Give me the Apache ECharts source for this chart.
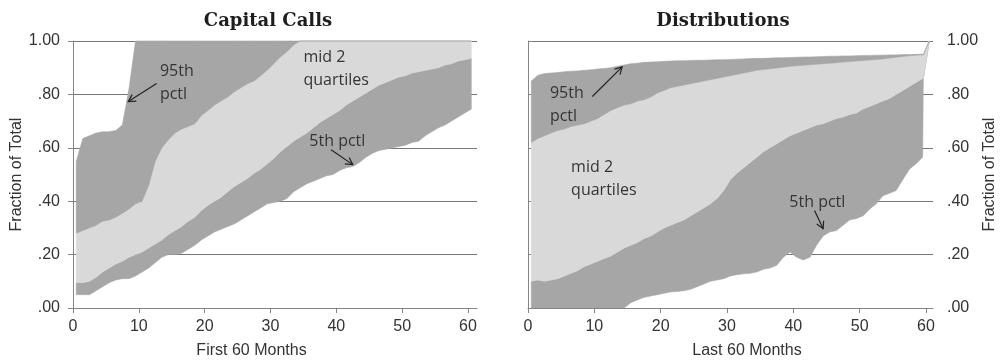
<!DOCTYPE html>
<html><head><meta charset="utf-8">
<script src="https://cdn.jsdelivr.net/npm/echarts@6/dist/echarts.min.js"></script>
<style>html,body{margin:0;padding:0;background:#fff}#c{width:1000px;height:364px}</style>
</head><body><div id="c"></div>
<script>
// ---------- data ----------
const titles = ['Capital Calls', 'Distributions'];
const xNames = ['First 60 Months', 'Last 60 Months'];
const yName = 'Fraction of Total';
const xTickValues = [0, 10, 20, 30, 40, 50, 60];
const yTickLabels = ['.00', '.20', '.40', '.60', '.80', '1.00'];

const callsMonths = [0.5,1.5,2.5,3.5,4.5,5.5,6.5,7.5,8.5,9.5,10.5,11.5,12.5,13.5,14.5,15.5,16.5,17.5,18.5,19.5,20.5,21.5,22.5,23.5,24.5,25.5,26.5,27.5,28.5,29.5,30.5,31.5,32.5,33.5,34.5,35.5,36.5,37.5,38.5,39.5,40.5,41.5,42.5,43.5,44.5,45.5,46.5,47.5,48.5,49.5,50.5,51.5,52.5,53.5,54.5,55.5,56.5,57.5,58.5,59.5,60.5];
const callsP5 = [0.05,0.05,0.05,0.065,0.08,0.095,0.105,0.11,0.11,0.12,
0.135,0.15,0.17,0.19,0.20,0.20,0.205,0.22,0.235,0.255,
0.27,0.285,0.295,0.305,0.315,0.33,0.345,0.36,0.375,0.39,
0.395,0.40,0.41,0.435,0.45,0.465,0.475,0.485,0.495,0.50,
0.515,0.525,0.53,0.545,0.565,0.58,0.59,0.595,0.60,0.605,
0.61,0.62,0.625,0.645,0.66,0.675,0.685,0.70,0.715,0.73,
0.745];
const callsP25 = [0.095,0.095,0.10,0.115,0.135,0.15,0.165,0.175,0.19,0.20,
0.21,0.225,0.24,0.255,0.275,0.29,0.305,0.325,0.34,0.365,
0.385,0.40,0.415,0.435,0.455,0.47,0.485,0.505,0.52,0.54,
0.56,0.585,0.605,0.625,0.64,0.655,0.675,0.695,0.71,0.725,
0.74,0.76,0.775,0.79,0.805,0.82,0.835,0.845,0.855,0.865,
0.87,0.88,0.885,0.89,0.895,0.90,0.91,0.915,0.925,0.93,
0.935];
const callsP75 = [0.28,0.29,0.30,0.31,0.325,0.33,0.34,0.355,0.37,0.39,
0.40,0.46,0.55,0.60,0.63,0.655,0.67,0.68,0.69,0.72,
0.74,0.76,0.775,0.79,0.81,0.825,0.84,0.85,0.87,0.89,
0.915,0.94,0.96,0.985,1,1,1,1,1,1,
1,1,1,1,1,1,1,1,1,1,
1,1,1,1,1,1,1,1,1,1,
1];
const callsP95 = [0.55,0.635,0.645,0.655,0.66,0.66,0.665,0.685,0.82,1,
1,1,1,1,1,1,1,1,1,1,
1,1,1,1,1,1,1,1,1,1,
1,1,1,1,1,1,1,1,1,1,
1,1,1,1,1,1,1,1,1,1,
1,1,1,1,1,1,1,1,1,1,
1];

const distMonths = [0.5,1.5,2.5,3.5,4.5,5.5,6.5,7.5,8.5,9.5,10.5,11.5,12.5,13.5,14.5,15.5,16.5,17.5,18.5,19.5,20.5,21.5,22.5,23.5,24.5,25.5,26.5,27.5,28.5,29.5,30.5,31.5,32.5,33.5,34.5,35.5,36.5,37.5,38.5,39.5,40.5,41.5,42.5,43.5,44.5,45.5,46.5,47.5,48.5,49.5,50.5,51.5,52.5,53.5,54.5,55.5,56.5,57.5,58.5,59.5,59.6,60.5];
const distP5 = [0,0,0,0,0,0,0,0,0,0,
0,0,0,0,0,0.02,0.03,0.04,0.045,0.05,
0.055,0.06,0.062,0.065,0.07,0.08,0.09,0.10,0.105,0.11,
0.12,0.125,0.128,0.13,0.135,0.145,0.15,0.16,0.19,0.21,
0.19,0.18,0.19,0.235,0.27,0.285,0.29,0.31,0.33,0.335,
0.345,0.37,0.39,0.42,0.43,0.44,0.48,0.52,0.54,0.565,
0.86,1];
const distP25 = [0.10,0.105,0.10,0.105,0.11,0.12,0.13,0.14,0.155,0.165,
0.175,0.185,0.195,0.21,0.225,0.235,0.245,0.26,0.27,0.285,
0.30,0.31,0.32,0.33,0.345,0.36,0.375,0.39,0.41,0.44,
0.48,0.505,0.525,0.545,0.565,0.585,0.60,0.615,0.63,0.645,
0.655,0.665,0.675,0.685,0.69,0.70,0.71,0.715,0.725,0.73,
0.745,0.755,0.765,0.775,0.785,0.80,0.815,0.83,0.845,0.86,
0.86,1];
const distP75 = [0.62,0.635,0.645,0.655,0.665,0.67,0.68,0.685,0.69,0.70,
0.71,0.725,0.74,0.75,0.76,0.765,0.775,0.78,0.79,0.805,
0.815,0.825,0.83,0.835,0.84,0.845,0.85,0.855,0.86,0.865,
0.87,0.875,0.88,0.885,0.89,0.893,0.896,0.899,0.902,0.905,
0.907,0.909,0.911,0.913,0.915,0.917,0.919,0.921,0.923,0.925,
0.927,0.929,0.931,0.933,0.936,0.939,0.942,0.945,0.947,0.948,
0.948,1];
const distP95 = [0.85,0.872,0.878,0.88,0.882,0.885,0.887,0.888,0.89,0.892,
0.895,0.897,0.90,0.905,0.91,0.915,0.917,0.92,0.921,0.922,
0.924,0.925,0.926,0.926,0.927,0.928,0.928,0.929,0.93,0.93,
0.931,0.932,0.933,0.934,0.935,0.935,0.936,0.937,0.937,0.938,
0.939,0.94,0.94,0.941,0.942,0.943,0.943,0.944,0.944,0.945,
0.946,0.946,0.947,0.947,0.948,0.948,0.949,0.949,0.95,0.95,
0.95,1];

// annotations: [grid, text, anchor in data coords (left edge, vertical middle)]
const notes = [
  {grid: 0, text: '95th\npctl', at: [13.2, 0.844]},
  {grid: 0, text: 'mid 2\nquartiles', at: [35.0, 0.894]},
  {grid: 0, text: '5th pctl', at: [35.9, 0.622]},
  {grid: 1, text: '95th\npctl', at: [3.3, 0.759]},
  {grid: 1, text: 'mid 2\nquartiles', at: [6.5, 0.485]},
  {grid: 1, text: '5th pctl', at: [39.4, 0.397]}
];
const arrows = [
  {grid: 0, from: [12.7, 0.841], to: [8.4, 0.773]},
  {grid: 0, from: [39.2, 0.593], to: [42.5, 0.537]},
  {grid: 1, from: [9.7, 0.792], to: [14.2, 0.903]},
  {grid: 1, from: [43.2, 0.365], to: [44.5, 0.297]}
];

// ---------- styling ----------
const DARK = '#a6a6a6', LIGHT = '#d9d9d9';
const AXIS = '#858585', GRIDC = '#777777', TXT = '#333333';
const SANS = '"Liberation Sans", Arial, sans-serif';

// one filled band between two percentile curves, drawn through the axis scales
function band(months, lo, hi, color, idx) {
  return {
    type: 'custom', xAxisIndex: idx, yAxisIndex: idx, silent: true, z: 2,
    data: months.map((m, i) => [m, lo[i], hi[i]]),
    encode: {x: 0, y: [1, 2]},
    renderItem: (params, api) => {
      if (params.dataIndex !== 0) return;
      const top = months.map((m, i) => api.coord([m, hi[i]]));
      const bot = months.map((m, i) => api.coord([m, lo[i]])).reverse();
      return {type: 'polygon', shape: {points: top.concat(bot)},
        style: {fill: color, stroke: color, lineWidth: 0.6}};
    }
  };
}
function bands(months, p5, p25, p75, p95, idx) {
  return [band(months, p5, p25, DARK, idx), band(months, p25, p75, LIGHT, idx), band(months, p75, p95, DARK, idx)];
}

const cvs = document.createElement('canvas').getContext('2d');
cvs.font = 'bold 18px "DejaVu Serif"';
const tw = titles.map(t => cvs.measureText(t).width);
const titleCenters = [268, 723];

function xAxisCfg(idx, max, name, namePad) {
  return {type: 'value', gridIndex: idx, min: 0, max: max, interval: 10, z: 5,
    axisLine: {show: true, onZero: false, lineStyle: {color: AXIS, width: 1}},
    axisTick: {show: true, length: 5, lineStyle: {color: AXIS}, customValues: xTickValues},
    axisLabel: {customValues: xTickValues, color: TXT, fontFamily: SANS, fontSize: 16, margin: 11},
    splitLine: {show: false},
    name: name, nameLocation: 'middle', nameGap: 35,
    nameTextStyle: {color: TXT, fontFamily: SANS, fontSize: 16, padding: namePad}};
}
function yAxisCfg(idx, pos, gap) {
  return {type: 'value', gridIndex: idx, position: pos, min: 0, max: 1, interval: 0.2,
    axisLine: {show: true, lineStyle: {color: AXIS, width: 1}},
    axisTick: {show: true, length: 5, lineStyle: {color: AXIS}},
    axisLabel: {color: TXT, fontFamily: SANS, fontSize: 16, margin: pos === 'left' ? 13 : 14,
      formatter: v => yTickLabels[Math.round(v * 5)]},
    splitLine: {show: true, lineStyle: {color: GRIDC, width: 1}},
    name: yName, nameLocation: 'middle', nameGap: gap,
    nameTextStyle: {color: TXT, fontFamily: SANS, fontSize: 16}};
}

const option = {
  animation: false,
  backgroundColor: '#ffffff',
  title: titles.map((t, i) => ({text: t, left: titleCenters[i] - tw[i] / 2, top: 12, padding: 0,
    textStyle: {fontFamily: '"DejaVu Serif", serif', fontWeight: 'bold', fontSize: 18, color: '#1e1e1e'}})),
  grid: [
    {left: 73, top: 41, width: 404, height: 268},
    {left: 528, top: 41, width: 405, height: 268}
  ],
  xAxis: [xAxisCfg(0, 61.37, xNames[0], [0, 47, 0, 0]), xAxisCfg(1, 61.06, xNames[1], [0, 0, 0, 33])],
  yAxis: [yAxisCfg(0, 'left', 45), yAxisCfg(1, 'right', 48)],
  series: [].concat(
    bands(callsMonths, callsP5, callsP25, callsP75, callsP95, 0),
    bands(distMonths, distP5, distP25, distP75, distP95, 1)
  )
};

const chart = echarts.init(document.getElementById('c'), null, {renderer: 'canvas'});
chart.setOption(option);

const g = [];
notes.forEach(n => {
  const p = chart.convertToPixel({gridIndex: n.grid}, n.at);
  g.push({type: 'text', x: p[0], y: p[1], silent: true, z: 10,
    style: {text: n.text, fill: '#353535', font: '16px "Open Sans"', align: 'left', verticalAlign: 'middle', lineHeight: 23}});
});
arrows.forEach(a => {
  const p1 = chart.convertToPixel({gridIndex: a.grid}, a.from);
  const p2 = chart.convertToPixel({gridIndex: a.grid}, a.to);
  const ang = Math.atan2(p2[1] - p1[1], p2[0] - p1[0]);
  const L = 8, s = 0.5;
  g.push({type: 'line', silent: true, z: 10, shape: {x1: p1[0], y1: p1[1], x2: p2[0], y2: p2[1]},
    style: {stroke: '#222', lineWidth: 1.2}});
  g.push({type: 'polyline', silent: true, z: 10, shape: {points: [
      [p2[0] - L * Math.cos(ang - s), p2[1] - L * Math.sin(ang - s)], p2,
      [p2[0] - L * Math.cos(ang + s), p2[1] - L * Math.sin(ang + s)]]},
    style: {stroke: '#222', lineWidth: 1.2, fill: null}});
});
chart.setOption({graphic: g});
</script>
</body></html>
